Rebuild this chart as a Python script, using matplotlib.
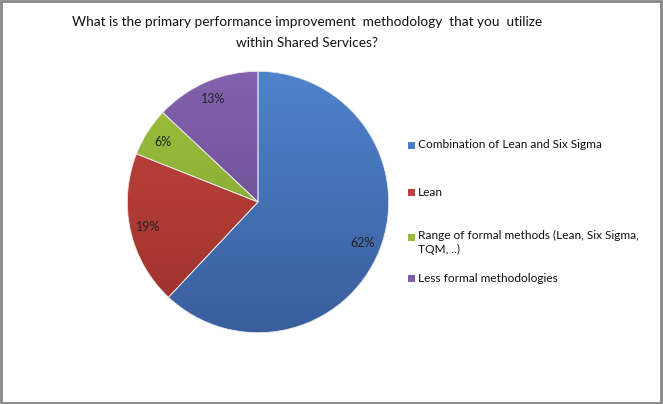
import numpy as np
import matplotlib
matplotlib.use("Agg")
import matplotlib.pyplot as plt
from matplotlib.colors import LinearSegmentedColormap
from matplotlib.patches import Rectangle

# Survey answers (share of respondents, %)
labels = ["Combination of Lean and Six Sigma",
          "Lean",
          "Range of formal methods (Lean, Six Sigma,\nTQM, ..)",
          "Less formal methodologies"]
values = [62, 19, 6, 13]

# Excel-like gradient shades (top, bottom) per slice
top_colors = ["#4F83CC", "#C4463F", "#9FC23E", "#8462AE"]
bottom_colors = ["#3A5E9C", "#9C302C", "#7A9A2E", "#5E4586"]
legend_colors = ["#4A7EC7", "#C0423C", "#9BBB3C", "#7F5DA6"]

plt.rcParams['font.family'] = ['Lato', 'DejaVu Sans']

fig = plt.figure(figsize=(6.63, 4.04), dpi=100)
fig.patch.set_facecolor("white")

# Chart border
fig.add_artist(Rectangle((0.001, 0.002), 0.996, 0.995, transform=fig.transFigure,
                         fill=False, edgecolor="#878787", linewidth=2))

W, H = 663, 404
cx, cy, r = 258, 202, 132
ax = fig.add_axes([(cx - r) / W, (H - cy - r) / H, 2 * r / W, 2 * r / H])

wedges, texts, autotexts = ax.pie(values, startangle=90, counterclock=False,
                                  radius=1, autopct='%1.0f%%', pctdistance=0.86,
                                  wedgeprops=dict(linewidth=0.6, edgecolor="#e8e8e8"),
                                  textprops=dict(fontsize=9, color="#222222"))

grad = np.linspace(0, 1, 256).reshape(-1, 1)
for w, c1, c2 in zip(wedges, top_colors, bottom_colors):
    cmap = LinearSegmentedColormap.from_list("g", [c1, c2])
    w.set_facecolor("none")
    im = ax.imshow(grad, extent=(-1, 1, -1, 1), origin="upper", cmap=cmap,
                   aspect="auto", zorder=0.5)
    im.set_clip_path(w)
    w.set_zorder(1)
for t in autotexts:
    t.set_zorder(3)

ax.set_xlim(-1.01, 1.01)
ax.set_ylim(-1.01, 1.01)
ax.set_aspect("equal")
ax.axis("off")

fig.text(307 / W, 1 - 22 / H, "What is the primary performance improvement  methodology  that you  utilize",
         ha="center", va="center", fontsize=9.8, color="#111111")
fig.text(307 / W, 1 - 43 / H, "within Shared Services?",
         ha="center", va="center", fontsize=9.8, color="#111111")

# Legend
entry_y = [145, 192, 242.5, 278]
for lab, col, y in zip(labels, legend_colors, entry_y):
    yy = y - 5.5 if "\n" in lab else y
    fig.add_artist(Rectangle((408 / W, 1 - (yy + 3.5) / H), 7 / W, 7 / H,
                             transform=fig.transFigure, facecolor=col, edgecolor="none"))
    fig.text(418 / W, 1 - y / H, lab, ha="left", va="center", fontsize=8.6,
             color="#111111", linespacing=1.35)

fig.savefig("out.png", dpi=100)
